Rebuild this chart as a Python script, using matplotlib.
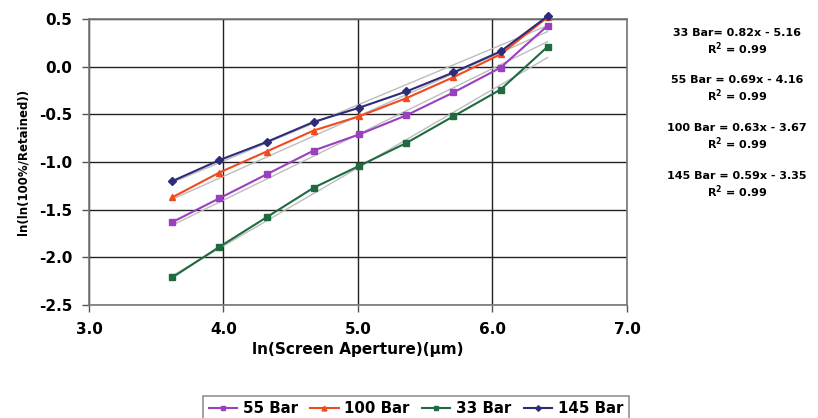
import matplotlib.pyplot as plt
import numpy as np

plt.rcParams['font.family'] = ['DejaVu Sans']
plt.rcParams['font.weight'] = 'bold'

# ln(screen aperture), same for every series
ln_ap = [3.62, 3.97, 4.32, 4.67, 5.01, 5.36, 5.71, 6.06, 6.41]

bar55 = [-1.63, -1.38, -1.13, -0.88, -0.71, -0.51, -0.27, -0.01, 0.43]
bar100 = [-1.37, -1.11, -0.89, -0.67, -0.52, -0.33, -0.11, 0.13, 0.52]
bar33 = [-2.21, -1.89, -1.58, -1.27, -1.04, -0.80, -0.52, -0.24, 0.21]
bar145 = [-1.20, -0.98, -0.79, -0.58, -0.43, -0.26, -0.06, 0.16, 0.53]

names = ['55 Bar', '100 Bar', '33 Bar', '145 Bar']
series = [bar55, bar100, bar33, bar145]
colors = ['#9A3FC0', '#F04A1E', '#1F6B3F', '#2E2C78']
markers = ['s', '^', 's', 'D']
msizes = [5, 5, 5, 4]

# trendline coefficients as printed on the chart (slope, intercept)
slopes = [0.69, 0.63, 0.82, 0.59]
intercepts = [-4.16, -3.67, -5.16, -3.35]

fig = plt.figure(figsize=(8.18, 4.18), dpi=100)
ax = fig.add_axes([0.1088, 0.2703, 0.6577, 0.6842])

xs = np.array([ln_ap[0], ln_ap[-1]])
for m, b in zip(slopes, intercepts):
    ax.plot(xs, m * xs + b, color='#BDBDBD', lw=1.0, zorder=2)

for y, n, c, mk, ms in zip(series, names, colors, markers, msizes):
    ax.plot(ln_ap, y, color=c, marker=mk, ms=ms, lw=1.5, label=n, zorder=3, clip_on=False)

ax.set_xlim(3.0, 7.0)
ax.set_ylim(-2.5, 0.5)
ax.set_xticks(np.arange(3.0, 7.01, 1.0))
ax.set_yticks(np.arange(-2.5, 0.51, 0.5))
ax.xaxis.set_major_formatter(plt.FormatStrFormatter('%.1f'))
ax.yaxis.set_major_formatter(plt.FormatStrFormatter('%.1f'))
ax.grid(True, color='#222222', lw=1.0)
ax.set_axisbelow(True)
for s in ax.spines.values():
    s.set_color('#777777')
    s.set_linewidth(1.2)
ax.tick_params(labelsize=11, length=5, width=1, color='#555555', pad=7)
for lab in ax.get_xticklabels() + ax.get_yticklabels():
    lab.set_fontweight('bold')
ax.set_xlabel('ln(Screen Aperture)(µm)', fontsize=11, fontweight='bold', labelpad=4)
ax.set_ylabel('ln(ln(100%/Retained))', fontsize=8.5, fontweight='bold', labelpad=7)

eqs = ['33 Bar= 0.82x - 5.16', '55 Bar = 0.69x - 4.16',
       '100 Bar = 0.63x - 3.67', '145 Bar = 0.59x - 3.35']
eq_y = [33, 80, 128, 176]
for t, yp in zip(eqs, eq_y):
    fig.text(737 / 818, 1 - yp / 418, t, ha='center', va='center', fontsize=8, fontweight='bold')
    fig.text(737 / 818, 1 - (yp + 16) / 418, 'R$^\\mathbf{2}$ = 0.99', ha='center', va='center',
             fontsize=8, fontweight='bold')

leg = fig.legend(loc='upper center', bbox_to_anchor=(416 / 818, 1 - 388 / 418), ncol=4,
                 fontsize=10.8, frameon=True, fancybox=False, handlelength=1.9,
                 handletextpad=0.4, columnspacing=0.8, borderpad=0.35, markerscale=0.7)
leg.get_frame().set_edgecolor('#777777')
leg.get_frame().set_linewidth(1.2)
for t in leg.get_texts():
    t.set_fontweight('bold')

fig.savefig('out.png', dpi=100)
